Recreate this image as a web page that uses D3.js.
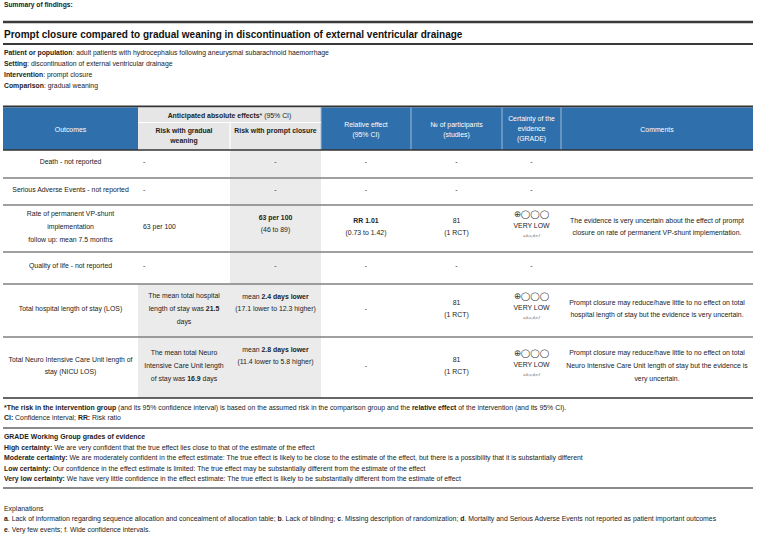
<!DOCTYPE html>
<html><head><meta charset="utf-8">
<script src="https://cdn.jsdelivr.net/npm/d3@7"></script>
<style>
body{margin:0;background:#fff}
svg{display:block;font-family:"Liberation Sans",Arial,Helvetica,sans-serif}
</style>
</head><body>
<svg id="chart" width="758" height="535"></svg>
<script>
// ---------------- DATA ----------------
const preTitle = "Summary of findings:";
const title = "Prompt closure compared to gradual weaning in discontinuation of external ventricular drainage";
const pico = [
  ["Patient or population", ": adult patients with hydrocephalus following aneurysmal subarachnoid haemorrhage"],
  ["Setting", ": discontinuation of external ventricular drainage"],
  ["Intervention", ": prompt closure"],
  ["Comparison", ": gradual weaning"]
];
const headers = ["Outcomes", "**Anticipated absolute effects*** (95% CI)", "**Risk with gradual**|**weaning**", "**Risk with prompt closure**",
  "Relative effect|(95% CI)", "№ of participants|(studies)", "Certainty of the|evidence|(GRADE)", "Comments"];
const outcomes = ["Death - not reported", "Serious Adverse Events - not reported",
  "Rate of permanent VP-shunt|implementation|follow up: mean 7.5 months", "Quality of life - not reported",
  "Total hospital length of stay (LOS)", "Total Neuro Intensive Care Unit length of|stay (NICU LOS)"];
const riskGradual = ["-", "-", "63 per 100", "-",
  "The mean total hospital|length of stay was **21.5**|days",
  "The mean total Neuro|Intensive Care Unit length|of stay was **16.9** days"];
const riskPrompt = ["-", "-", "**63 per 100**|(46 to 89)", "-",
  "mean **2.4 days lower**|(17.1 lower to 12.3 higher)",
  "mean **2.8 days lower**|(11.4 lower to 5.8 higher)"];
const relativeEffect = ["-", "-", "**RR 1.01**|(0.73 to 1.42)", "-", "-", "-"];
const participants = ["-", "-", "81|(1 RCT)", "-", "81|(1 RCT)", "81|(1 RCT)"];
const certainty = ["-", "-", "VERY LOW", "-", "VERY LOW", "VERY LOW"];
const certaintyNotes = ["", "", "a,b,c,d,e,f", "", "a,b,c,d,e,f", "a,b,c,d,e,f"];
const comments = ["", "",
  "The evidence is very uncertain about the effect of prompt|closure on rate of permanent VP-shunt implementation.", "",
  "Prompt closure may reduce/have little to no effect on total|hospital length of stay but the evidence is very uncertain.",
  "Prompt closure may reduce/have little to no effect on total|Neuro Intensive Care Unit length of stay but the evidence is|very uncertain."];
const footnotes = [
  "***The risk in the intervention group** (and its 95% confidence interval) is based on the assumed risk in the comparison group and the **relative effect** of the intervention (and its 95% CI).",
  "**CI:** Confidence interval; **RR:** Risk ratio"
];
const gradeTitle = "**GRADE Working Group grades of evidence**";
const gradeLines = [
  "**High certainty:** We are very confident that the true effect lies close to that of the estimate of the effect",
  "**Moderate certainty:** We are moderately confident in the effect estimate: The true effect is likely to be close to the estimate of the effect, but there is a possibility that it is substantially different",
  "**Low certainty:** Our confidence in the effect estimate is limited: The true effect may be substantially different from the estimate of the effect",
  "**Very low certainty:** We have very little confidence in the effect estimate: The true effect is likely to be substantially different from the estimate of effect"
];
const explanationsTitle = "Explanations";
const explanations = [
  "**a**. Lack of information regarding sequence allocation and concealment of allocation table; **b**. Lack of blinding; **c**. Missing description of randomization; **d**. Mortality and Serious Adverse Events not reported as patient important outcomes",
  "**e**. Very few events; f. Wide confidence intervals."
];

// ---------------- LAYOUT ----------------
const svg = d3.select("#chart");
const BLUE = "#2f6fab", GRAY = "#e6e6e6", TXT = "#222";
const FS = 6.9;
const colEdges = [3, 138, 230, 321, 411, 502, 561, 753];
const rowEdges = [150, 178, 205, 252, 284, 337, 398];
const x = i => colEdges[i];
const rowIdx = d3.range(outcomes.length);
const yTop = d3.scaleOrdinal().domain(rowIdx).range(rowEdges.slice(0, -1));
const yBot = d3.scaleOrdinal().domain(rowIdx).range(rowEdges.slice(1));

// rich text: "|" = new line, "**x**" = bold
function rich(sel, str, opt) {
  const lines = str.split("|");
  const lh = opt.lh || 11;
  const t = sel.append("text")
    .attr("x", opt.x).attr("y", opt.y)
    .attr("text-anchor", opt.anchor || "middle")
    .attr("font-size", opt.fs || FS)
    .attr("fill", opt.fill || TXT);
  lines.forEach((ln, li) => {
    const parts = ln.split("**");
    let first = true;
    parts.forEach((p, pi) => {
      if (p === "") return;
      const ts = t.append("tspan").text(p).attr("font-weight", pi % 2 ? "bold" : null);
      if (first) { ts.attr("x", opt.x).attr("dy", li === 0 ? 0 : lh); first = false; }
    });
  });
  return t;
}

// pre-title & title
rich(svg, "**" + preTitle + "**", {x: 4, y: 7, anchor: "start", fs: 6.7});
svg.append("line").attr("x1", 3).attr("x2", 753).attr("y1", 22).attr("y2", 22).attr("stroke", "#3a3a3a").attr("stroke-width", 2.5);
rich(svg, "**" + title + "**", {x: 4, y: 37.5, anchor: "start", fs: 10, fill: "#111"});
svg.append("line").attr("x1", 3).attr("x2", 753).attr("y1", 44).attr("y2", 44).attr("stroke", "#3a3a3a").attr("stroke-width", 2);
pico.forEach((p, i) => rich(svg, "**" + p[0] + "**" + p[1], {x: 4, y: 54.5 + i * 11.3, anchor: "start", fs: 6.85}));

// header backgrounds
svg.append("line").attr("x1", 3).attr("x2", 753).attr("y1", 106.5).attr("y2", 106.5).attr("stroke", "#333").attr("stroke-width", 2);
const hTop = 107.5, hBot = 150;
[[0,1,BLUE],[1,3,GRAY],[3,4,BLUE],[4,5,BLUE],[5,6,BLUE],[6,7,BLUE]].forEach(([a,b,c]) => {
  svg.append("rect").attr("x", x(a)).attr("y", hTop).attr("width", x(b) - x(a)).attr("height", hBot - hTop).attr("fill", c);
});
[3,4,5,6].forEach(i => svg.append("line").attr("x1", x(i)).attr("x2", x(i)).attr("y1", hTop).attr("y2", hBot).attr("stroke", "#9dbcd9").attr("stroke-width", 1));
svg.append("line").attr("x1", x(1)).attr("x2", x(3)).attr("y1", 122.5).attr("y2", 122.5).attr("stroke", "#fff").attr("stroke-width", 1.2);
svg.append("line").attr("x1", x(2)).attr("x2", x(2)).attr("y1", 122.5).attr("y2", hBot).attr("stroke", "#fff").attr("stroke-width", 1.2);

// header texts
const mid = (a, b) => (x(a) + x(b)) / 2;
rich(svg, headers[0], {x: mid(0,1), y: 131.5, fill: "#fff"});
rich(svg, headers[1], {x: mid(1,3), y: 117.5});
rich(svg, headers[2], {x: mid(1,2), y: 133, lh: 10});
rich(svg, headers[3], {x: mid(2,3), y: 133});
rich(svg, headers[4], {x: mid(3,4), y: 126.5, lh: 10, fill: "#fff"});
rich(svg, headers[5], {x: mid(4,5), y: 126.5, lh: 10, fill: "#fff"});
rich(svg, headers[6], {x: mid(5,6), y: 120.5, lh: 10, fill: "#fff"});
rich(svg, headers[7], {x: mid(6,7), y: 131.5, fill: "#fff"});

// body gray backgrounds
const body = svg.append("g");
body.append("rect").attr("x", x(2)).attr("y", rowEdges[0]).attr("width", x(3) - x(2)).attr("height", rowEdges[6] - rowEdges[0]).attr("fill", "#ebebeb");
body.selectAll("rect.g2").data(rowIdx.filter(i => riskGradual[i].length > 12)).join("rect")
  .attr("class", "g2").attr("x", x(1)).attr("y", i => yTop(i)).attr("width", x(2) - x(1))
  .attr("height", i => yBot(i) - yTop(i)).attr("fill", "#ebebeb");

// row lines
body.selectAll("line.row").data(rowIdx.slice(0, -1)).join("line").attr("class", "row")
  .attr("x1", 3).attr("x2", 753).attr("y1", i => yBot(i)).attr("y2", i => yBot(i))
  .attr("stroke", "#808080").attr("stroke-width", 1.3);
svg.append("line").attr("x1", 3).attr("x2", 753).attr("y1", 150).attr("y2", 150).attr("stroke", "#333").attr("stroke-width", 1.3);
svg.append("line").attr("x1", 3).attr("x2", 753).attr("y1", rowEdges[6]).attr("y2", rowEdges[6]).attr("stroke", "#333").attr("stroke-width", 1.5);

// body text: vertically centred cells (prompt-closure column top aligned)
const LH = 12.6;
rowIdx.forEach(i => {
  const t = yTop(i), b = yBot(i);
  const c = (t + b) / 2 - 2;
  const n = s => s.split("|").length;
  const midY = s => c - (n(s) - 1) * LH / 2 + 2.4;
  rich(body, outcomes[i], {x: mid(0,1), y: midY(outcomes[i]), lh: LH});
  if (riskGradual[i].length < 12) {
    rich(body, riskGradual[i], {x: x(1) + 5, y: midY(riskGradual[i]), anchor: "start"});
  } else {
    rich(body, riskGradual[i], {x: mid(1,2), y: midY(riskGradual[i]), lh: LH});
  }
  rich(body, riskPrompt[i], {x: mid(2,3), y: riskPrompt[i] === "-" ? midY("-") : t + 14.5, lh: LH});
  rich(body, relativeEffect[i], {x: mid(3,4), y: midY(relativeEffect[i]), lh: LH});
  rich(body, participants[i], {x: mid(4,5), y: midY(participants[i]), lh: LH});
  if (certainty[i] === "-") {
    rich(body, "-", {x: mid(5,6), y: midY("-")});
  } else {
    const cc = c - 2;
    body.append("text").attr("x", mid(5,6)).attr("y", cc - 7.5).attr("text-anchor", "middle")
      .attr("font-family", "DejaVu Sans").attr("font-size", 8.5).attr("fill", "#333").text("⊕◯◯◯");
    rich(body, certainty[i], {x: mid(5,6), y: cc + 3});
    body.append("text").attr("x", mid(5,6)).attr("y", cc + 12).attr("text-anchor", "middle")
      .attr("font-size", 3.8).attr("font-style", "italic").attr("fill", "#555").text(certaintyNotes[i]);
  }
  if (comments[i]) rich(body, comments[i], {x: mid(6,7), y: midY(comments[i]), lh: LH});
});

// footnotes
const FF = 6.9;
footnotes.forEach((f, i) => rich(svg, f, {x: 4, y: 409.5 + i * 10.5, anchor: "start", fs: FF}));
svg.append("line").attr("x1", 3).attr("x2", 753).attr("y1", 428).attr("y2", 428).attr("stroke", "#8a8a8a").attr("stroke-width", 2);
rich(svg, gradeTitle, {x: 4, y: 439, anchor: "start", fs: FF});
gradeLines.forEach((g, i) => rich(svg, g, {x: 4, y: 449.5 + i * 10.5, anchor: "start", fs: FF}));
svg.append("line").attr("x1", 3).attr("x2", 753).attr("y1", 488).attr("y2", 488).attr("stroke", "#8a8a8a").attr("stroke-width", 2);
rich(svg, explanationsTitle, {x: 4, y: 510.5, anchor: "start", fs: FF});
explanations.forEach((e, i) => rich(svg, e, {x: 4, y: 521 + i * 10.5, anchor: "start", fs: FF}));
</script>
</body></html>
